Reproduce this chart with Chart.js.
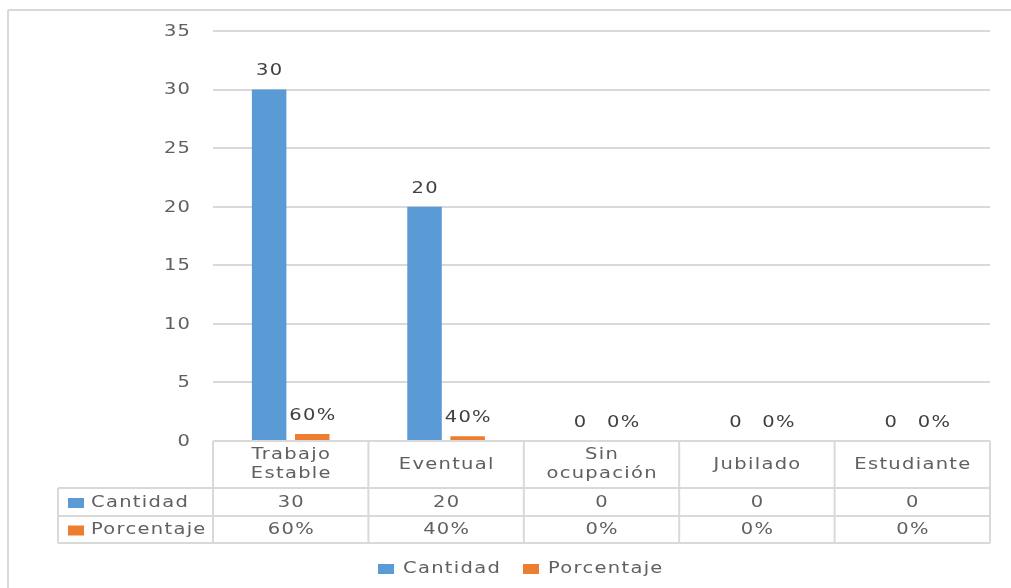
<!DOCTYPE html>
<html>
<head>
<meta charset="utf-8">
<script src="https://cdn.jsdelivr.net/npm/chart.js@4.4.1/dist/chart.umd.min.js"></script>
<style>
  html, body { margin: 0; padding: 0; background: #fff; }
  #wrap { width: 1011px; height: 588px; position: relative; }
</style>
</head>
<body>
<div id="wrap"><canvas id="chart" width="1011" height="588"></canvas></div>
<script>
// Chart data
const categories = [['Trabajo', 'Estable'], 'Eventual', ['Sin', 'ocupación'], 'Jubilado', 'Estudiante'];
const cantidad = [30, 20, 0, 0, 0];
const porcentaje = [0.6, 0.4, 0, 0, 0];
const seriesNames = ['Cantidad', 'Porcentaje'];
const seriesColors = ['#5B9BD5', '#ED7D31'];
const yMax = 35;
const yStep = 5;

const TEXT = '#606060';
const GRID = '#D9D9D9';
const FONT = '15px "DejaVu Sans"';
const SX = 1.3;

function fmt(dsIndex, v) {
    return dsIndex === 1 ? Math.round(v * 100) + '%' : String(v);
}

// text is drawn a bit stretched sideways, like the original
function sText(ctx, txt, x, y, align, color) {
    ctx.save();
    ctx.font = FONT;
    ctx.letterSpacing = '1px';
    ctx.fillStyle = color || TEXT;
    ctx.textBaseline = 'middle';
    ctx.textAlign = 'left';
    const w = (ctx.measureText(txt).width - 1) * SX;
    let x0 = x;
    if (align === 'center') x0 = x - w / 2;
    else if (align === 'right') x0 = x - w;
    ctx.translate(x0, y);
    ctx.scale(SX, 1);
    ctx.fillText(txt, 0, 0);
    ctx.restore();
}

function hline(ctx, x1, x2, y) {
    ctx.beginPath(); ctx.moveTo(x1, y); ctx.lineTo(x2, y); ctx.stroke();
}
function vline(ctx, x, y1, y2) {
    ctx.beginPath(); ctx.moveTo(x, y1); ctx.lineTo(x, y2); ctx.stroke();
}

const decorPlugin = {
    id: 'decor',
    beforeDraw(chart) {
        const ctx = chart.ctx;
        ctx.save();
        ctx.fillStyle = '#fff';
        ctx.fillRect(0, 0, chart.width, chart.height);
        ctx.strokeStyle = GRID;
        ctx.lineWidth = 2;
        hline(ctx, 8, chart.width, 10);
        vline(ctx, 8, 10, chart.height);
        ctx.restore();
    },
    afterDraw(chart) {
        const ctx = chart.ctx;
        const area = chart.chartArea;
        const xs = chart.scales.x;
        const ys = chart.scales.y;

        // y tick labels
        ys.ticks.forEach(t => {
            sText(ctx, String(t.value), 190, ys.getPixelForValue(t.value) + 1, 'right');
        });

        // bar value labels
        chart.data.datasets.forEach((ds, di) => {
            chart.getDatasetMeta(di).data.forEach((bar, i) => {
                sText(ctx, fmt(di, ds.data[i]), bar.x, bar.y - 18, 'center', '#404040');
            });
        });

        // data table
        const catW = xs.getPixelForValue(1) - xs.getPixelForValue(0);
        const top = area.bottom;
        const rows = [top, top + 47, top + 75, top + 102];
        const tableLeft = 58;
        ctx.save();
        ctx.strokeStyle = GRID;
        ctx.lineWidth = 2;
        hline(ctx, area.left, area.right, rows[0]);
        for (let r = 1; r < rows.length; r++) hline(ctx, tableLeft, area.right, rows[r]);
        vline(ctx, tableLeft, rows[1], rows[3]);
        for (let i = 0; i <= categories.length; i++) {
            const x = xs.getPixelForValue(0) - catW / 2 + i * catW;
            vline(ctx, x, rows[0], rows[3]);
        }
        ctx.restore();

        const headMid = (rows[0] + rows[1]) / 2;
        categories.forEach((c, i) => {
            const cx = xs.getPixelForValue(i);
            if (Array.isArray(c)) {
                sText(ctx, c[0], cx, headMid - 9, 'center');
                sText(ctx, c[1], cx, headMid + 10, 'center');
            } else {
                sText(ctx, c, cx, headMid + 1, 'center');
            }
        });

        chart.data.datasets.forEach((ds, di) => {
            const mid = (rows[di + 1] + rows[di + 2]) / 2 + 1;
            ctx.fillStyle = seriesColors[di];
            ctx.fillRect(68, mid - 5, 16, 10);
            sText(ctx, ds.label, 91, mid, 'left');
            ds.data.forEach((v, i) => {
                sText(ctx, fmt(di, v), xs.getPixelForValue(i), mid, 'center');
            });
        });

        // bottom legend
        const ly = 569;
        const legendX = [378, 523];
        seriesNames.forEach((name, di) => {
            ctx.fillStyle = seriesColors[di];
            ctx.fillRect(legendX[di], ly - 5, 16, 10);
            sText(ctx, name, legendX[di] + 25, ly, 'left');
        });
    }
};

new Chart(document.getElementById('chart'), {
    type: 'bar',
    data: {
        labels: categories,
        datasets: [{
            label: seriesNames[0],
            data: cantidad,
            backgroundColor: seriesColors[0],
            barPercentage: 0.8,
            categoryPercentage: 0.555
        }, {
            label: seriesNames[1],
            data: porcentaje,
            backgroundColor: seriesColors[1],
            barPercentage: 0.8,
            categoryPercentage: 0.555
        }]
    },
    options: {
        responsive: false,
        animation: false,
        devicePixelRatio: 1,
        layout: { padding: { left: 213, right: 21, top: 31, bottom: 147 } },
        plugins: {
            legend: { display: false },
            tooltip: { enabled: false }
        },
        scales: {
            x: { display: false },
            y: {
                min: 0,
                max: yMax,
                ticks: { stepSize: yStep, display: false },
                grid: { color: GRID, lineWidth: 2, drawTicks: false },
                border: { display: false },
                afterFit(s) { s.width = 0; }
            }
        }
    },
    plugins: [decorPlugin]
});
</script>
</body>
</html>
